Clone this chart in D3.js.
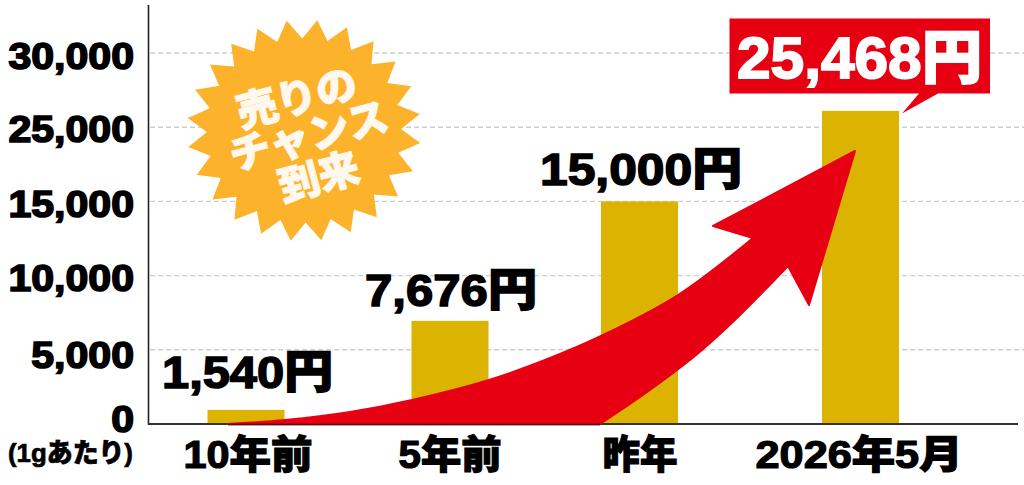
<!DOCTYPE html>
<html lang="ja"><head><meta charset="utf-8">
<script src="https://cdn.jsdelivr.net/npm/d3@7/dist/d3.min.js"></script>
<style>
html,body{margin:0;padding:0;background:#fff;overflow:hidden}
svg{display:block}
text{font-family:"Liberation Sans","Noto Sans CJK JP",sans-serif;font-weight:900;fill:#000}
</style></head><body><svg id="c" width="1024" height="485"></svg>
<script>
const categories = ['10年前','5年前','昨年','2026年5月'];
const barValues = [950, 6950, 15000, 26100];
const priceLabels = ['1,540円','7,676円','15,000円','25,468円'];
const tickValues = [0,5000,10000,15000,25000,30000];
const tickLabels = ['0','5,000','10,000','15,000','25,000','30,000'];
const unitLabel = '(1gあたり)';
const burstLines = ['売りの','チャンス','到来'];

const GOLD='#DBB300', RED='#E60012', ORANGE='#FDB22C';
const svg=d3.select('#c');

const y=d3.scaleLinear().domain(tickValues).range(tickValues.map((_,i)=>424-i*74.2));
const x=d3.scaleOrdinal().domain(categories).range([246,450,639.5,860.5]);
const barW=77;

function fit(sel,w){sel.attr('textLength',w).attr('lengthAdjust','spacingAndGlyphs');}
function widen(sel,f){sel.each(function(){const n=this.getComputedTextLength();
  d3.select(this).attr('textLength',n*f).attr('lengthAdjust','spacingAndGlyphs');});}

// grid
svg.append('g').selectAll('line').data(tickValues.slice(1)).join('line')
  .attr('x1',150).attr('x2',1024).attr('y1',d=>y(d)).attr('y2',d=>y(d))
  .attr('stroke','#cfcfcf').attr('stroke-width',1.4).attr('stroke-dasharray','5 3');

// bars
svg.append('g').selectAll('rect').data(categories).join('rect')
  .attr('x',d=>x(d)-barW/2).attr('width',barW)
  .attr('y',(d,i)=>y(barValues[i])).attr('height',(d,i)=>y(0)-y(barValues[i]))
  .attr('fill',GOLD);

// axes
svg.append('line').attr('x1',148.5).attr('x2',148.5).attr('y1',5).attr('y2',425).attr('stroke','#222').attr('stroke-width',1.6);
svg.append('line').attr('x1',148).attr('x2',1018).attr('y1',y(0)).attr('y2',y(0)).attr('stroke','#333').attr('stroke-width',1.8);

// y tick labels
const yBaselineDy=[7,18,15,15.5,14.5,15];
const yAxis=svg.append('g').attr('transform','translate(134,0)')
  .call(d3.axisLeft(y).tickValues(tickValues).tickSize(0).tickPadding(0).tickFormat((d,i)=>tickLabels[i]));
yAxis.select('.domain').remove();
yAxis.selectAll('text').attr('x',0).attr('dy',null).attr('y',(d,i)=>yBaselineDy[i])
  .attr('text-anchor','end').style('font-size','37px')
  .style('font-family','"Liberation Sans","Noto Sans CJK JP",sans-serif')
  .attr('stroke','#000').attr('stroke-width',1.6).call(widen,1.11);

svg.append('text').attr('x',133).attr('y',462).attr('text-anchor','end').attr('font-size',26)
  .attr('stroke','#000').attr('stroke-width',.7).text(unitLabel).call(fit,125);

// x tick labels
const xWidths=[129,103,75,207], xShift=[1.5,-.5,0,-2];
const xAxis=svg.append('g').attr('transform',`translate(0,${y(0)})`)
  .call(d3.axisBottom(x).tickSize(0).tickPadding(0));
xAxis.select('.domain').remove();
xAxis.selectAll('text').attr('dy',null).attr('y',44).attr('x',(d,i)=>xShift[i])
  .attr('text-anchor','middle').style('font-size','39px')
  .style('font-family','"Liberation Sans","Noto Sans CJK JP",sans-serif')
  .attr('stroke','#000').attr('stroke-width',1.2)
  .each(function(d,i){d3.select(this).call(fit,xWidths[i]);});

// price labels
const priceCfg=[{cx:247.5,by:388,w:171},{cx:451,by:306,w:172},{cx:641,by:185,w:202}];
svg.append('g').selectAll('text').data(priceCfg).join('text')
  .attr('x',d=>d.cx).attr('y',d=>d.by).attr('text-anchor','middle').attr('font-size',45)
  .attr('stroke','#000').attr('stroke-width',1.5)
  .attr('textLength',d=>d.w).attr('lengthAdjust','spacingAndGlyphs')
  .text((d,i)=>priceLabels[i]);

// rising arrow
const upper=[[228,424],[285,420],[350,412],[412,400],[489,380],[545,360],[601,336],[678,295],[753,238]];
const lower=[[788,266],[740,315],[702,350],[677,370],[640,397],[600,424]];
const curve=d3.line().curve(d3.curveCatmullRom.alpha(.5));
const p=curve(upper)+'L713,226L855,151L809,305'+curve(lower).replace(/^M/,'L')+'Z';
svg.append('path').attr('d',p).attr('fill',RED).attr('stroke',RED).attr('stroke-width',2).attr('stroke-linejoin','round');
svg.append('rect').attr('x',228).attr('y',y(0)-.4).attr('width',372).attr('height',1.8).attr('fill','#5a1015');

// burst
const burst=d3.range(48).map(i=>{const a=(6.5+i*7.5)*Math.PI/180,r=i%2?.83:1;
  return [304+117*r*Math.sin(a),130.5-111*r*Math.cos(a)];});
svg.append('polygon').attr('points',burst.map(d=>d.join(',')).join(' ')).attr('fill',ORANGE);
const burstDx=[-1,1,0], burstBase=[-25,15,57];
svg.append('g').attr('transform','translate(308,136) rotate(-15)')
 .selectAll('text').data(burstLines).join('text')
  .attr('x',(d,i)=>burstDx[i]).attr('y',(d,i)=>burstBase[i])
  .attr('text-anchor','middle').attr('font-size',41)
  .style('fill','#fff8ee').attr('stroke','#fff8ee').attr('stroke-width',1).text(d=>d);

// callout
svg.append('path').attr('d','M729.5,18.5H990V93.5H938L902,113.5L919,93.5H729.5Z').attr('fill',RED);
svg.append('text').attr('x',859.5).attr('y',78).attr('text-anchor','middle').attr('font-size',58)
  .style('fill','#fff').attr('stroke','#fff').attr('stroke-width',1.8)
  .text(priceLabels[3]).call(fit,245);
</script></body></html>
